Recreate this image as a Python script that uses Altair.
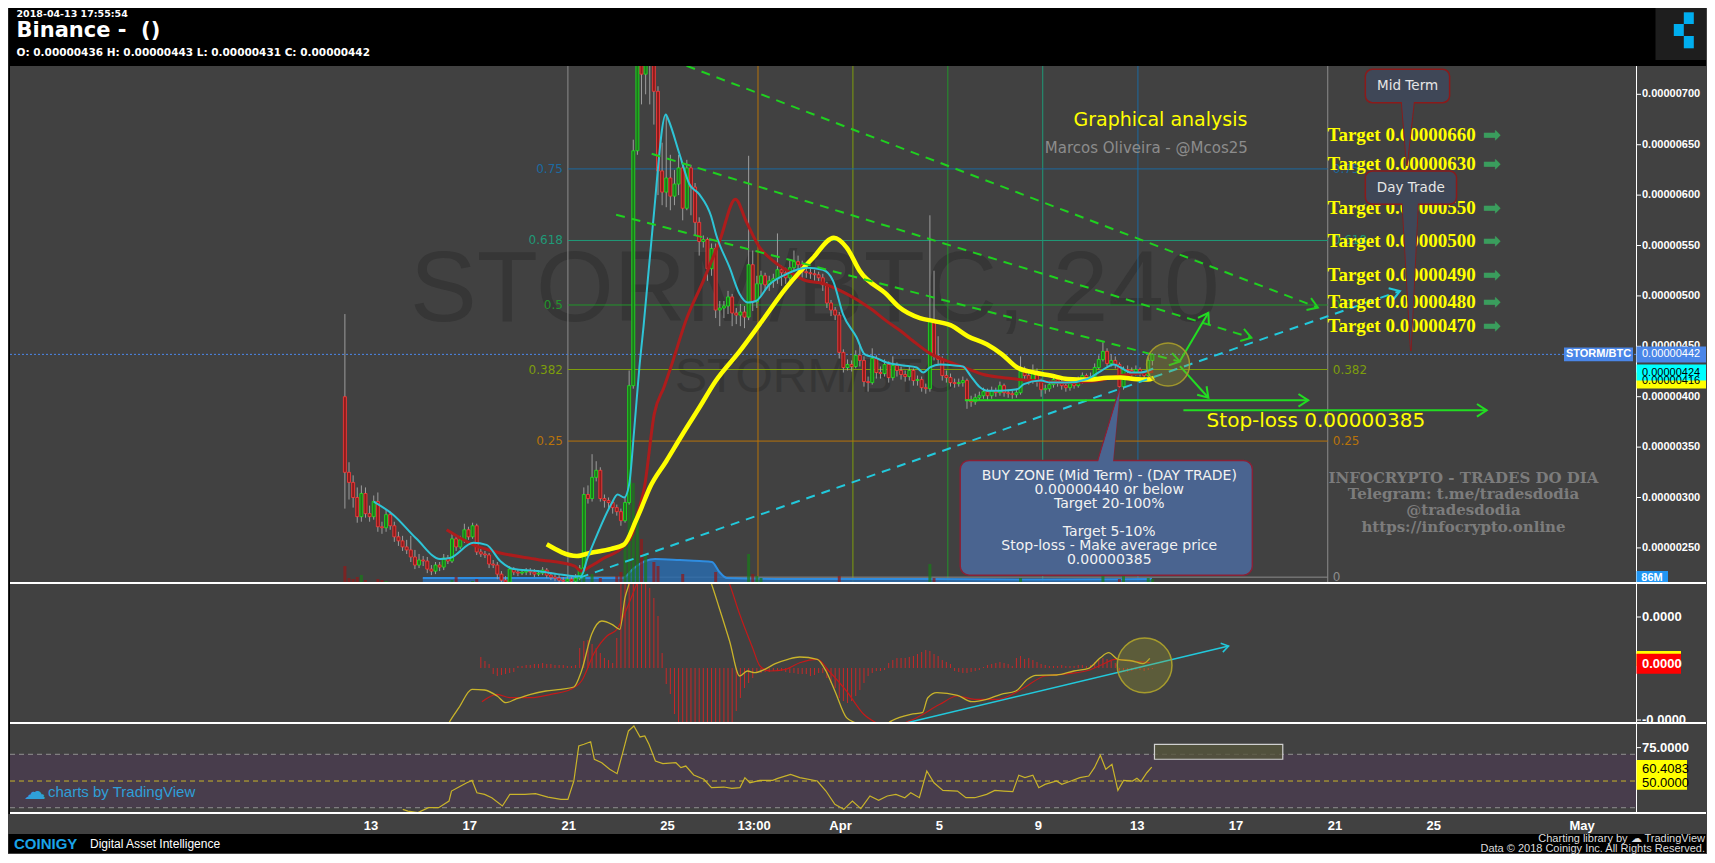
import math
import altair as alt
import pandas as pd

# ---------------- layout (pixels / scales) ----------------
W = 1626
H_MAIN, H_MACD, H_RSI = 518, 140, 90
X_DOM = [-1.6, 64.18]          # day counted from 1 March (Apr 1 = 32, May 1 = 62)
Y_MAIN = [214.2, 728.1]        # price in units of 1e-8 BTC
Y_MACD = [-56.0, 84.0]
Y_RSI = [25.3, 92.7]
PX_DAY = W / (X_DOM[1] - X_DOM[0])
PX_MAIN = H_MAIN / (Y_MAIN[1] - Y_MAIN[0])
PX_MACD = H_MACD / (Y_MACD[1] - Y_MACD[0])

# ---------------- data: 4h candles (price x 1e-8 BTC) ----------------
candle_day0 = 11.948
candle_step = 1.0 / 6.0
first_open = 400
closes = [325, 315, 300, 281, 304, 284, 281, 296, 271, 270,
          283, 272, 261, 257, 251, 248, 241, 233, 238, 237,
          229, 227, 233, 231, 240, 237, 259, 251, 258, 268,
          261, 272, 246, 244, 243, 234, 233, 224, 218, 216,
          229, 226, 225, 226, 227, 226, 224, 225, 228, 223,
          221, 220, 218, 217, 219, 217, 220, 230, 303, 299,
          320, 327, 299, 297, 295, 290, 286, 277, 295, 411,
          644, 770, 720, 790, 750, 703, 624, 603, 617, 599,
          611, 627, 587, 627, 608, 573, 554, 556, 527, 547,
          486, 488, 490, 499, 483, 481, 484, 479, 531, 494,
          512, 520, 511, 515, 517, 526, 523, 518, 528, 534,
          531, 524, 523, 522, 521, 518, 511, 493, 486, 481,
          444, 429, 432, 430, 441, 436, 415, 414, 438, 424,
          423, 432, 419, 431, 426, 422, 420, 426, 416, 417,
          409, 408, 475, 440, 437, 421, 419, 414, 413, 414,
          416, 397, 395, 399, 401, 405, 401, 406, 404, 411,
          404, 403, 402, 404, 425, 421, 416, 425, 416, 407,
          408, 412, 417, 414, 411, 409, 413, 411, 416, 421,
          418, 420, 429, 437, 445, 433, 436, 432, 410, 427,
          426, 424, 427, 424, 421, 436, 442]
highs = [482, 335, 322, 310, 312, 310, 292, 302, 305, 276,
         288, 286, 276, 266, 262, 258, 262, 248, 244, 242,
         241, 233, 236, 236, 244, 243, 264, 262, 262, 274,
         271, 275, 274, 249, 247, 245, 238, 236, 227, 222,
         232, 231, 229, 229, 230, 230, 229, 228, 231, 230,
         226, 224, 223, 221, 222, 221, 224, 233, 310, 312,
         343, 336, 330, 303, 300, 296, 293, 289, 300, 426,
         655, 860, 800, 850, 820, 760, 708, 652, 680, 640,
         625, 640, 632, 635, 630, 612, 578, 560, 558, 552,
         552, 495, 495, 505, 502, 488, 492, 490, 639, 545,
         520, 525, 523, 520, 522, 562, 530, 528, 535, 545,
         540, 535, 528, 527, 526, 524, 522, 514, 496, 489,
         484, 447, 437, 436, 446, 452, 440, 420, 448, 441,
         430, 437, 435, 440, 434, 430, 426, 430, 428, 421,
         420, 413, 580, 525, 460, 440, 426, 423, 418, 418,
         420, 418, 401, 403, 405, 409, 408, 410, 409, 415,
         413, 407, 406, 408, 440, 430, 424, 432, 428, 418,
         412, 416, 420, 420, 417, 414, 417, 416, 420, 424,
         423, 424, 433, 441, 454, 448, 442, 440, 434, 430,
         431, 429, 431, 429, 425, 439, 443]
lows = [289, 298, 290, 275, 276, 280, 276, 278, 266, 264,
        266, 268, 256, 252, 247, 244, 236, 229, 230, 232,
        225, 223, 224, 227, 228, 234, 235, 247, 249, 255,
        258, 259, 243, 241, 240, 230, 230, 219, 214, 213,
        214, 223, 222, 223, 223, 223, 221, 222, 223, 220,
        218, 217, 215, 215, 215, 215, 215, 218, 228, 294,
        296, 316, 296, 290, 289, 284, 282, 272, 275, 293,
        408, 640, 690, 700, 690, 670, 600, 590, 588, 585,
        590, 600, 575, 585, 580, 560, 540, 548, 515, 520,
        478, 470, 478, 482, 470, 472, 470, 468, 476, 485,
        488, 500, 505, 505, 508, 512, 510, 512, 515, 524,
        525, 518, 518, 517, 515, 512, 505, 488, 480, 476,
        438, 424, 426, 425, 428, 430, 410, 405, 412, 418,
        418, 420, 414, 416, 420, 417, 415, 416, 411, 411,
        405, 403, 405, 436, 432, 416, 414, 410, 409, 410,
        410, 388, 390, 392, 396, 398, 397, 398, 400, 401,
        400, 399, 398, 399, 402, 416, 412, 413, 410, 400,
        403, 405, 409, 410, 407, 405, 406, 408, 409, 413,
        414, 415, 418, 427, 435, 430, 430, 428, 405, 407,
        422, 420, 421, 420, 418, 419, 431]

# moving averages (candle index, value)
cyan_idx = [7, 11.7, 17.4, 23.1, 25.5, 31.2, 34.4, 37.7, 40.9, 46.7,
            51.6, 55.7, 57.3, 58.9, 61.3, 64.6, 66.2, 67.8, 69, 70.2,
            71.5, 72.5, 74.7, 77.9, 78.5, 81.2, 83.6, 86, 88.9, 90.1,
            93.4, 95.8, 97.8, 99.8, 103.1, 107.1, 112, 116, 118.5, 120.9,
            124.2, 126.2, 128.6, 131.5, 135.5, 138.8, 140.4, 142, 144.5, 148,
            150, 152, 154, 156, 159.2, 163.2, 164.8, 168.9, 171.3, 175.4,
            180.2, 183.5, 186.7, 188.3, 190.8, 193.2, 194.8, 196.2]
cyan_val = [296, 283, 259, 239, 240, 255, 253, 237, 229, 227,
            224, 222, 222, 240, 264, 293, 303, 300, 313, 366,
            430, 470, 568, 680, 675, 641, 611, 601, 579, 561,
            528, 502, 493.5, 495, 511.6, 521.5, 528, 526, 515, 482,
            459, 442, 439, 434, 431, 429, 424, 429, 432, 431,
            430, 420, 410, 406, 406, 407.4, 412.5, 416, 414, 414,
            417.6, 425.5, 432, 429, 424, 424, 425.5, 428]
red_idx = [24.7, 31.2, 37.7, 46.7, 55.8, 57.3, 59.7, 62.9, 67.8, 69.8,
           71, 72.7, 75.1, 77.5, 79.1, 83, 87, 91, 94.8, 97.4,
           100.7, 103.9, 108.8, 112, 115.3, 121.8, 127.4, 131.5, 135, 138,
           142, 147, 151, 155, 159.5, 167, 175, 183, 187, 191, 196.2]
red_val = [268, 253, 245, 238.6, 232, 227, 232, 240, 252, 263.7,
           283, 310, 383, 410, 429, 478, 515, 555, 596, 574,
           548, 535, 521.5, 515, 513, 502, 488, 475, 465, 455,
           443, 434, 428, 422, 419, 416, 414, 416, 420, 422.5, 425]
yellow_idx = [49, 56.3, 59.5, 64.6, 67.8, 70.6, 72, 74, 78, 82,
              86, 90, 95.8, 100.7, 107.1, 113.6, 118.7, 121.8, 125, 131.5,
              134.5, 139.6, 143, 147, 151.2, 155.8, 159.5, 163.2, 167.3, 171.3,
              175.4, 180.2, 185.1, 188.3, 191.6, 194.8, 196.4]
yellow_val = [253.6, 242, 245, 249, 253.6, 276.7, 290, 309.7, 336, 363,
              389, 415.6, 445, 472, 508, 537.6, 557.7, 548, 524.6, 501.5,
              489, 478, 475, 471, 460, 452, 442, 429, 424, 421,
              417.6, 417, 418.7, 419, 417.6, 417, 418.7]

# volume (height in px of the volume pane) for notable candles
vol_idx = [0, 1, 2, 3, 4, 5, 8, 9, 10, 26, 27, 31, 32, 40, 57, 58, 60, 62, 66, 67,
           68, 69, 70, 71, 72, 73, 75, 76, 82, 90, 98, 99, 100, 101, 120, 142, 143,
           164, 184, 188, 189, 195, 196]
vol_px = [18, 6, 5, 7, 9, 4, 5, 4, 3, 4, 7, 3, 5, 3, 8, 22, 10, 6, 8, 12,
          38, 128, 101, 70, 45, 30, 22, 18, 10, 12, 30, 10, 8, 6, 8, 20, 6,
          6, 8, 5, 10, 6, 5]
vol_ma_day = [15.1, 23.2, 23.6, 24.1, 24.5, 25.5, 26.3, 26.8, 27.1, 27.4, 30, 35, 40, 44.6]
vol_ma_px = [6, 6, 15, 23, 25, 24, 23, 22, 12, 6, 5, 5, 4.5, 5]

# fibonacci retracement
fib_names = ["0", "0.25", "0.382", "0.5", "0.618", "0.75"]
fib_prices = [221, 356, 427, 491, 555, 626]
fib_start, fib_end = 20.97, 51.71
fib_vdays = [20.97, 28.66, 32.5, 36.34, 40.18, 44.03, 51.71]

# drawings
green_dash = [[(25.77, 728.3), (51.31, 488.5)],
              [(24.36, 641.0), (48.62, 458.5)],
              [(22.92, 580.6), (45.73, 434.8)]]
cyan_dash = [[(21.45, 220.5), (54.63, 504.9)]]
green_arrows = [[(45.73, 435.4), (46.88, 483.3)],
                [(45.73, 430.4), (46.88, 399.0)],
                [(37.03, 396.4), (50.92, 396.4)],
                [(45.87, 386.5), (58.14, 386.5)]]
circle_main = (45.25, 432)

target_text = ["Target 0.00000660", "Target 0.00000630", "Target 0.00000550",
               "Target 0.00000500", "Target 0.00000490", "Target 0.00000480",
               "Target 0.00000470"]
target_p = [660, 630.6, 587.5, 554.5, 520.8, 494.2, 470.1]
target_day, target_arrow_day = 51.7, 58.35

buy_box = (36.84, 48.66, 336.8, 222.9)
buy_tail = [(336.8, 42.41, 43.02), (409.0, 43.30, 43.30)]
buy_lines = ["BUY ZONE (Mid Term) - (DAY TRADE)", "0.00000440 or below", "Target 20-100%",
             "Target 5-10%", "Stop-loss - Make average price", "0.00000385"]
buy_line_p = [321.3, 307.4, 293.8, 266.2, 252.0, 238.3]
buy_text_day = 42.87

mid_box = (53.23, 56.64, 724.8, 691.7)
mid_tail = [(691.7, 54.70, 55.20), (628.9, 54.91, 54.91)]
mid_label = (54.94, 708.2, "Mid Term")
day_box = (53.23, 56.92, 623.9, 590.9)
day_tail = [(590.9, 54.73, 55.36), (445.4, 55.07, 55.07)]
day_label = (55.07, 607.3, "Day Trade")

info_lines = ["INFOCRYPTO - TRADES DO DIA", "Telegram: t.me/tradesdodia",
              "@tradesdodia", "https://infocrypto.online"]
info_p = [319.6, 303.1, 287.2, 270.9]
info_day = 57.2

# MACD (values in pane px units, 0 = zero line)
macd_day = [15.79, 16.16, 16.56, 17.09, 17.60, 18.11, 18.46, 18.84, 19.46, 20.08,
            20.69, 21.21, 21.52, 21.93, 22.34, 22.75, 23.07, 23.28, 23.44, 24.08,
            25.50, 26.78, 27.09, 27.51, 27.92, 28.23, 28.53, 28.94, 29.36, 29.87,
            30.35, 31.06, 31.41, 31.77, 32.24, 32.70, 33.19, 33.59, 33.89, 34.36,
            34.84, 35.31, 35.53, 35.90, 36.73, 37.31, 37.91, 38.49, 39.09, 39.56,
            39.90, 40.74, 41.44, 42.04, 42.51, 42.85, 43.22, 43.81, 44.23, 44.51]
macd_val = [-73, -54.7, -39.7, -21.3, -22, -28, -34.7, -31.3, -26.3, -23,
            -21.3, -19, -3, 33.7, 47, 43.7, 38.7, 70.3, 84, 187,
            137, 84, 60.3, 27, -8, -3, -4.7, -1.3, 4.3, 8.7,
            11, 8.7, -3, -23, -49.7, -56.3, -68, -71, -56.3, -49.7,
            -46.3, -44.7, -29.7, -24.7, -27.3, -33.7, -31.3, -26.3, -23, -11.3,
            -7.3, -7, -3, -0.3, 10.3, 15.3, 8.7, 7, 4.3, 9.7]
sig_day = [17.49, 18.10, 18.62, 19.46, 20.28, 21.09, 21.52, 22.04, 22.55, 22.95,
           23.48, 23.75, 24.69, 26.31, 27.51, 27.92, 28.44, 28.74, 29.14, 29.78,
           30.35, 31.06, 31.53, 32.24, 32.94, 33.54, 33.99, 34.48, 35.08, 36.02,
           36.73, 37.43, 38.36, 39.32, 40.27, 41.20, 42.04, 42.61, 43.10, 43.79, 44.51]
sig_val = [-33.7, -26.3, -29.7, -29.7, -26.3, -21.3, -13, 15.3, 32, 38.7,
           67, 84, 147, 137, 84, 53.7, 20.3, 2, -3, -1.3,
           5.3, 8.7, -3, -23, -46.3, -56.3, -63, -56.3, -49.7, -36.3,
           -28, -31.3, -31.3, -21.3, -8, -5.7, -2.3, 3.7, 8.7, 7, 5.3]
hist_start = 33
hist_vals = [11, 7, 4,
             -6, -8, -7, -6, -5, -4,
             2, 2, 3, 3, 4, 4, 5, 4, 4, 3, 3, 3, 2, 2, 3,
             20, 27, 28, 24, 20, 15, 10, 8, 5,
             30, 90, 95, 100, 100, 95, 92, 88, 80, 70, 52, 15,
             -16, -26, -46, -70, -70, -70, -70, -70, -70, -70, -70, -70, -70, -70, -70, -70, -70, -43, -30,
             -20, -15, -10,
             -5, -5, -4, -4, -3, -3, -3, -4, -5, -5, -6,
             -6, -6, -8, -7, -5, -5,
             -10, -15, -20, -30, -33, -35, -33, -28, -22, -15, -8,
             -5, -3, -3, -2,
             5, 8, 10, 10, 10, 11, 12, 14, 16, 18, 17, 14, 12, 8, 6, 4,
             -3, -4, -5, -5, -4, -3, -2,
             1, 3, 4, 5, 6, 5, 4, 2,
             10, 12, 9, 10, 8, 6, 4, 3,
             2, 2, 2, 3, 2, 2, 2, 3, 3, 2, 3,
             6, 8, 10, 9, 7, 5,
             -3, -3, -4, -3, -2, -2, -3, -2, -1]
macd_trend = [(34.48, -56.0), (47.7, 22.0)]
macd_circle = (44.3, 2.7)

# RSI
rsi_day = [14.29, 14.50, 14.90, 15.33, 15.74, 16.16, 16.26, 16.56, 16.88, 17.09,
           17.29, 17.60, 17.89, 18.32, 18.62, 19.23, 19.66, 20.16, 20.69, 20.97,
           21.21, 21.41, 21.62, 21.89, 22.04, 22.34, 22.66, 22.96, 23.17, 23.42,
           23.64, 23.89, 24.08, 24.25, 24.51, 24.81, 25.34, 25.54, 25.74, 26.06,
           26.47, 26.78, 27.28, 27.60, 27.93, 28.13, 28.33, 28.74, 29.26, 29.46,
           29.98, 30.35, 31.06, 31.41, 31.77, 32.13, 32.48, 32.82, 33.19, 33.54,
           33.89, 34.24, 34.60, 34.84, 35.19, 35.49, 35.78, 36.14, 36.73, 37.07,
           37.43, 37.91, 38.24, 38.61, 38.97, 39.21, 39.46, 39.78, 40.02, 40.27,
           40.74, 40.95, 41.32, 41.68, 42.04, 42.27, 42.51, 42.73, 42.98, 43.22,
           43.45, 43.81, 43.99, 44.15, 44.39, 44.59]
rsi_val = [28.8, 27.5, 26.3, 30.0, 30.0, 35.0, 42.5, 45.5, 48.7, 50.5,
           41.2, 40.0, 37.5, 31.3, 40.0, 40.0, 40.5, 38.0, 36.3, 36.3,
           50.0, 76.2, 77.5, 79.4, 66.3, 63.7, 58.8, 55.5, 70.0, 87.5,
           91.2, 83.0, 83.7, 77.5, 65.0, 63.0, 63.7, 60.0, 61.2, 54.5,
           51.3, 45.0, 45.5, 44.5, 45.0, 52.5, 48.7, 50.5, 50.5, 52.0,
           55.0, 52.5, 50.0, 42.5, 32.5, 28.8, 35.0, 29.3, 38.8, 35.5,
           38.8, 40.0, 37.5, 41.2, 37.5, 57.5, 48.7, 43.0, 42.5, 37.5,
           37.5, 40.0, 43.0, 42.5, 42.0, 54.3, 52.5, 54.3, 45.0, 47.5,
           50.0, 47.5, 50.0, 52.5, 53.7, 60.0, 69.3, 58.8, 62.5, 43.0,
           50.5, 50.0, 52.0, 49.5, 56.2, 60.4]
rsi_box = (44.7, 49.89, 77.5, 66.3)

# axis ticks and their labels
x_tick_days = [13, 17, 21, 25, 28.5, 32, 36, 40, 44, 48, 52, 56, 62]
x_tick_labels = ["13", "17", "21", "25", "13:00", "Apr", "5", "9", "13", "17", "21", "25", "May"]
price_ticks = [250, 300, 350, 400, 450, 500, 550, 600, 650, 700]
price_tick_labels = ["0.00000%d" % v for v in price_ticks]
macd_ticks = [51, -52]
macd_tick_labels = ["0.0000", "-0.0000"]
rsi_ticks = [75]
rsi_tick_labels = ["75.0000"]

# ---------------- styles ----------------
F_SANS = "DejaVu Sans"
F_LIB = "Liberation Sans"
F_NAR = "Liberation Sans Narrow, Liberation Sans"
F_SERIF = "Liberation Serif"
F_DSERIF = "DejaVu Serif"
C_UP, C_DN, C_WICK = "#1ee81e", "#ff3b3b", "#9c9c9c"
C_CYAN, C_MARED, C_MAYEL = "#2ec4d6", "#ad1c1c", "#ffff00"
C_GDASH, C_CDASH, C_GARROW = "#1fd01f", "#22c9dc", "#22dd22"
fib_colors = ["#8c8c8c", "#b8730a", "#7d9d0c", "#22962b", "#1f9a78", "#1c6aa0"]
fib_vcolors = ["#8c8c8c", "#b8730a", "#7d9d0c", "#22962b", "#1f9a78", "#1c6aa0", "#8c8c8c"]
CHEVRON = "M-1,-0.65L0,0L-1,0.65"

# ---------------- helpers ----------------
one = pd.DataFrame({"k": [0]})
XS = alt.Scale(domain=X_DOM, nice=False, zero=False)
YM = alt.Scale(domain=Y_MAIN, nice=False, zero=False)
YD = alt.Scale(domain=Y_MACD, nice=False, zero=False)
YR = alt.Scale(domain=Y_RSI, nice=False, zero=False)


def X(f):
    return alt.X(f + ":Q", scale=XS, axis=None, title=None)


def Y(f, s):
    return alt.Y(f + ":Q", scale=s, axis=None, title=None)


def vrect(x, x2, y, y2, **kw):
    return alt.Chart(one).mark_rect(**kw).encode(
        x=alt.value(x), x2=alt.value(x2), y=alt.value(y), y2=alt.value(y2))


def vtext(txt, x, y, **kw):
    return alt.Chart(one).mark_text(text=txt, **kw).encode(x=alt.value(x), y=alt.value(y))


def ang(p0, p1, pxy):
    dx = (p1[0] - p0[0]) * PX_DAY
    dy = -(p1[1] - p0[1]) * pxy
    return math.degrees(math.atan2(dy, dx)) % 360


def seg_df(segs):
    return pd.DataFrame([{"seg": k, "day": d, "p": p}
                         for k, s in enumerate(segs) for (d, p) in s])


def head_df(segs, pxy):
    return pd.DataFrame([{"day": s[-1][0], "p": s[-1][1], "ang": ang(s[0], s[-1], pxy)}
                         for s in segs])


def frame_left(h):
    return alt.Chart(one).mark_rect(color="black").encode(
        x=alt.value(-1.5), x2=alt.value(0), y=alt.value(0), y2=alt.value(h))


def separator(h):
    return alt.Chart(one).mark_rule(color="white", strokeWidth=2).encode(
        x=alt.value(0), x2=alt.value(W + 70), y=alt.value(h - 1))


def right_axis(h, ticks, labels, scale, font, size):
    df = pd.DataFrame({"v": ticks, "lab": labels})
    return [
        alt.Chart(one).mark_rule(color="white", strokeWidth=1).encode(
            x=alt.value(W + 0.5), y=alt.value(0), y2=alt.value(h)),
        alt.Chart(df).mark_rule(color="white", strokeWidth=1).encode(
            x=alt.value(W), x2=alt.value(W + 5), y=Y("v", scale)),
        alt.Chart(df).mark_text(align="left", baseline="middle", font=font, fontSize=size,
                                fontWeight="bold", color="white").encode(
            x=alt.value(W + 6), y=Y("v", scale), text="lab:N"),
    ]


# ---------------- dataframes ----------------
n = len(closes)
opens = [first_open] + closes[:-1]
cdf = pd.DataFrame({"i": list(range(n)), "open": opens, "close": closes,
                    "high": highs, "low": lows})
cdf["day"] = candle_day0 + cdf["i"] * candle_step
cdf["top"] = cdf[["open", "close"]].max(axis=1)
cdf["bot"] = cdf[["open", "close"]].min(axis=1)
cdf["dir"] = ["up" if c >= o else "down" for o, c in zip(opens, closes)]
half = 1.5 / PX_DAY
cdf["x0"] = cdf["day"] - half
cdf["x1"] = cdf["day"] + half

dir_scale = alt.Scale(domain=["up", "down"], range=[C_UP, C_DN])


def ma_df(idx, val):
    return pd.DataFrame({"day": [candle_day0 + k * candle_step for k in idx], "p": val})


vdf = pd.DataFrame({"i": vol_idx, "v": vol_px})
vdf = vdf.merge(cdf[["i", "day", "dir", "x0", "x1"]], on="i")
vdf["base"] = Y_MAIN[0]
vdf["vt"] = Y_MAIN[0] + vdf["v"] / PX_MAIN

vma = pd.DataFrame({"day": vol_ma_day, "v": vol_ma_px})
vma["base"] = Y_MAIN[0]
vma["vt"] = Y_MAIN[0] + vma["v"] / PX_MAIN

fib_h = pd.DataFrame({"name": fib_names, "p": fib_prices, "col": fib_colors})
fib_h["x0"] = fib_start
fib_h["x1"] = fib_end
fib_v = pd.DataFrame({"day": fib_vdays, "col": fib_vcolors})

# ---------------- main pane ----------------
L = []
L.append(frame_left(H_MAIN))
# watermark
L.append(alt.Chart(pd.DataFrame({"day": [30.96], "p": [505]})).mark_text(
    text="STORM/BTC, 240", font=F_LIB, fontSize=100, color="#363636", baseline="middle"
).encode(x=X("day"), y=Y("p", YM)))
L.append(alt.Chart(pd.DataFrame({"day": [31.0], "p": [418.6]})).mark_text(
    text="STORM/BTC", font=F_LIB, fontSize=48, color="#363636", baseline="middle"
).encode(x=X("day"), y=Y("p", YM)))
# fib
L.append(alt.Chart(fib_v).mark_rule(strokeWidth=1).encode(
    x=X("day"), y=alt.value(0), y2=alt.value(H_MAIN), color=alt.Color("col:N", scale=None)))
L.append(alt.Chart(fib_h).mark_rule(strokeWidth=1).encode(
    x=X("x0"), x2=alt.X2("x1:Q"), y=Y("p", YM), color=alt.Color("col:N", scale=None)))
L.append(alt.Chart(fib_h[fib_h["name"] != "0"]).mark_text(
    align="right", baseline="middle", font=F_SANS, fontSize=12, dx=-5).encode(
    x=X("x0"), y=Y("p", YM), text="name:N", color=alt.Color("col:N", scale=None)))
L.append(alt.Chart(fib_h).mark_text(
    align="left", baseline="middle", font=F_SANS, fontSize=12, dx=5).encode(
    x=X("x1"), y=Y("p", YM), text="name:N", color=alt.Color("col:N", scale=None)))
# current price line
L.append(alt.Chart(pd.DataFrame({"p": [closes[-1]]})).mark_rule(
    color="#4a86e8", strokeDash=[2, 2], strokeWidth=1).encode(
    x=alt.value(0), x2=alt.value(W), y=Y("p", YM)))
# volume
L.append(alt.Chart(vma).mark_area(color="#2a6bab", opacity=0.85, interpolate="monotone").encode(
    x=X("day"), y=Y("vt", YM), y2=alt.Y2("base:Q")))
L.append(alt.Chart(vma).mark_line(color="#2f8de0", strokeWidth=2, interpolate="monotone").encode(
    x=X("day"), y=Y("vt", YM)))
L.append(alt.Chart(vdf).mark_rect(opacity=0.75).encode(
    x=X("x0"), x2=alt.X2("x1:Q"), y=Y("vt", YM), y2=alt.Y2("base:Q"),
    color=alt.Color("dir:N", scale=alt.Scale(domain=["up", "down"], range=["#1b7a1b", "#8e1b1b"]),
                    legend=None)))
# candles
L.append(alt.Chart(cdf).mark_rule(color=C_WICK, strokeWidth=1, clip=True).encode(
    x=X("day"), y=Y("low", YM), y2=alt.Y2("high:Q")))
L.append(alt.Chart(cdf).mark_rect(strokeWidth=0.8, clip=True).encode(
    x=X("x0"), x2=alt.X2("x1:Q"), y=Y("bot", YM), y2=alt.Y2("top:Q"),
    color=alt.Color("dir:N", scale=dir_scale, legend=None),
    stroke=alt.Stroke("dir:N", scale=dir_scale, legend=None)))
# moving averages
L.append(alt.Chart(ma_df(red_idx, red_val)).mark_line(
    color=C_MARED, strokeWidth=3, interpolate="monotone", clip=True).encode(x=X("day"), y=Y("p", YM)))
L.append(alt.Chart(ma_df(yellow_idx, yellow_val)).mark_line(
    color=C_MAYEL, strokeWidth=4.5, interpolate="monotone", clip=True).encode(x=X("day"), y=Y("p", YM)))
L.append(alt.Chart(ma_df(cyan_idx, cyan_val)).mark_line(
    color=C_CYAN, strokeWidth=2, interpolate="monotone", clip=True).encode(x=X("day"), y=Y("p", YM)))
# trend lines
L.append(alt.Chart(seg_df(green_dash)).mark_line(
    color=C_GDASH, strokeWidth=2, strokeDash=[9, 7], clip=True).encode(
    x=X("day"), y=Y("p", YM), detail="seg:N"))
L.append(alt.Chart(seg_df(cyan_dash)).mark_line(
    color=C_CDASH, strokeWidth=2, strokeDash=[9, 7], clip=True).encode(
    x=X("day"), y=Y("p", YM), detail="seg:N"))
L.append(alt.Chart(seg_df(green_arrows)).mark_line(
    color=C_GARROW, strokeWidth=2, clip=True).encode(x=X("day"), y=Y("p", YM), detail="seg:N"))
heads = [(green_dash, C_GDASH), (cyan_dash, C_CDASH), (green_arrows, C_GARROW)]
for segs, col in heads:
    L.append(alt.Chart(head_df(segs, PX_MAIN)).mark_point(
        shape=CHEVRON, filled=False, size=380, strokeWidth=2, color=col, opacity=1).encode(
        x=X("day"), y=Y("p", YM), angle=alt.Angle("ang:Q", scale=None)))
# circle
L.append(alt.Chart(pd.DataFrame({"day": [circle_main[0]], "p": [circle_main[1]]})).mark_point(
    shape="circle", filled=True, fill="#9a9a2a", fillOpacity=0.3, stroke="#a89d2a",
    strokeOpacity=0.9, strokeWidth=1.5, size=1850).encode(x=X("day"), y=Y("p", YM)))
# titles inside the chart
L.append(alt.Chart(pd.DataFrame({"day": [44.94], "p": [674.2]})).mark_text(
    text="Graphical analysis", font=F_SANS, fontSize=19, color="#ffff00", baseline="middle").encode(
    x=X("day"), y=Y("p", YM)))
L.append(alt.Chart(pd.DataFrame({"day": [44.37], "p": [646.4]})).mark_text(
    text="Marcos Oliveira - @Mcos25", font=F_SANS, fontSize=15, color="#8c8c8c", baseline="middle").encode(
    x=X("day"), y=Y("p", YM)))
L.append(alt.Chart(pd.DataFrame({"day": [51.23], "p": [375.9]})).mark_text(
    text="Stop-loss 0.00000385", font=F_SANS, fontSize=20, color="#ffff00", baseline="middle").encode(
    x=X("day"), y=Y("p", YM)))
L.append(alt.Chart(pd.DataFrame({"txt": info_lines, "p": info_p, "day": [info_day] * 4})).mark_text(
    font=F_DSERIF, fontSize=15, fontWeight="bold", color="#7c7c7c", baseline="middle").encode(
    x=X("day"), y=Y("p", YM), text="txt:N"))
# BUY ZONE callout
buy_tail_df = pd.DataFrame(buy_tail, columns=["p", "xa", "xb"])
L.append(alt.Chart(buy_tail_df).mark_area(
    orient="horizontal", fill="#4a6490", stroke="#8a2035", strokeWidth=1.5).encode(
    y=Y("p", YM), x=X("xa"), x2=alt.X2("xb:Q")))
L.append(alt.Chart(pd.DataFrame([buy_box], columns=["x0", "x1", "y0", "y1"])).mark_rect(
    fill="#4a6490", stroke="#8a2035", strokeWidth=1.5, cornerRadius=9).encode(
    x=X("x0"), x2=alt.X2("x1:Q"), y=Y("y0", YM), y2=alt.Y2("y1:Q")))
L.append(alt.Chart(buy_tail_df.assign(p=buy_tail_df["p"] - 2)).mark_area(
    orient="horizontal", fill="#4a6490").encode(y=Y("p", YM), x=X("xa"), x2=alt.X2("xb:Q")))
L.append(alt.Chart(pd.DataFrame({"txt": buy_lines, "p": buy_line_p,
                                 "day": [buy_text_day] * len(buy_lines)})).mark_text(
    font=F_SANS, fontSize=14, color="#f2f2f2", baseline="middle").encode(
    x=X("day"), y=Y("p", YM), text="txt:N"))
# targets
tdf = pd.DataFrame({"txt": target_text, "p": target_p})
tdf["day"] = target_day
tdf["aday"] = target_arrow_day
L.append(alt.Chart(tdf).mark_text(
    font=F_SERIF, fontSize=19, fontWeight="bold", color="#ffff00", align="left", baseline="middle").encode(
    x=X("day"), y=Y("p", YM), text="txt:N"))
L.append(alt.Chart(tdf).mark_text(
    text="\u27a1", font=F_SANS, fontSize=22, color="#3a9d5d", baseline="middle").encode(
    x=X("aday"), y=Y("p", YM)))
# Mid Term / Day Trade callouts
for box, tail, lab in [(mid_box, mid_tail, mid_label), (day_box, day_tail, day_label)]:
    tdf2 = pd.DataFrame(tail, columns=["p", "xa", "xb"])
    L.append(alt.Chart(tdf2).mark_area(
        orient="horizontal", fill="#3f4757", stroke="#8b1a1a", strokeWidth=1.5).encode(
        y=Y("p", YM), x=X("xa"), x2=alt.X2("xb:Q")))
    L.append(alt.Chart(pd.DataFrame([box], columns=["x0", "x1", "y0", "y1"])).mark_rect(
        fill="#3f4757", stroke="#8b1a1a", strokeWidth=1.5, cornerRadius=7).encode(
        x=X("x0"), x2=alt.X2("x1:Q"), y=Y("y0", YM), y2=alt.Y2("y1:Q")))
    L.append(alt.Chart(tdf2.assign(p=tdf2["p"] + 2)).mark_area(
        orient="horizontal", fill="#3f4757").encode(y=Y("p", YM), x=X("xa"), x2=alt.X2("xb:Q")))
    L.append(alt.Chart(pd.DataFrame({"day": [lab[0]], "p": [lab[1]]})).mark_text(
        text=lab[2], font=F_SANS, fontSize=13.5, color="#e6e6e6", baseline="middle").encode(
        x=X("day"), y=Y("p", YM)))
# right price axis
L.extend(right_axis(H_MAIN, price_ticks, price_tick_labels, YM, F_LIB, 11))
# right-hand price labels
half_lab = 8 / PX_MAIN
lab_df = pd.DataFrame({"p": [416, 424, closes[-1]],
                       "fill": ["#ffff00", "#00ffff", "#4a86e8"],
                       "tc": ["#000000", "#000000", "#ffffff"]})
lab_df["txt"] = ["0.00000%d" % v for v in lab_df["p"]]
lab_df["y0"] = lab_df["p"] + half_lab
lab_df["y1"] = lab_df["p"] - half_lab
L.append(alt.Chart(lab_df).mark_rect().encode(
    x=alt.value(W + 0.5), x2=alt.value(W + 70), y=Y("y0", YM), y2=alt.Y2("y1:Q"),
    color=alt.Color("fill:N", scale=None)))
L.append(alt.Chart(lab_df).mark_text(align="left", baseline="middle", font=F_LIB, fontSize=11).encode(
    x=alt.value(W + 6), y=Y("p", YM), text="txt:N", color=alt.Color("tc:N", scale=None)))
sym_df = pd.DataFrame({"p": [closes[-1]]})
sym_df["y0"] = sym_df["p"] + half_lab * 0.85
sym_df["y1"] = sym_df["p"] - half_lab * 0.85
L.append(alt.Chart(sym_df).mark_rect(color="#4a86e8").encode(
    x=alt.value(W - 72), x2=alt.value(W - 3), y=Y("y0", YM), y2=alt.Y2("y1:Q")))
L.append(alt.Chart(sym_df).mark_text(text="STORM/BTC", font=F_LIB, fontSize=11, fontWeight="bold",
                                      color="white", baseline="middle").encode(
    x=alt.value(W - 37.5), y=Y("p", YM)))
L.append(vrect(W + 0.5, W + 32, H_MAIN - 13, H_MAIN, color="#2196f3"))
L.append(vtext("86M", W + 16, H_MAIN - 6, font=F_LIB, fontSize=11, fontWeight="bold",
               color="white", baseline="middle"))
# header
L.append(vrect(-1.5, W + 70, -58, 0, color="black"))
L.append(vtext("2018-04-13 17:55:54", 6.5, -52, font=F_SANS, fontSize=9.5, fontWeight="bold",
               color="white", align="left", baseline="middle"))
L.append(vtext("Binance -\u00a0\u00a0()", 6.5, -35, font=F_SANS, fontSize=21, fontWeight="bold",
               color="white", align="left", baseline="middle"))
L.append(vtext("O: 0.00000436 H: 0.00000443 L: 0.00000431 C: 0.00000442", 6.5, -13,
               font=F_SANS, fontSize=10.5, fontWeight="bold", color="white", align="left",
               baseline="middle"))
L.append(vrect(W + 19.5, W + 70, -58, -6, color="#1e1e1e"))
L.append(vrect(W + 47.8, W + 57.8, -53.7, -42, color="#00aeef"))
L.append(vrect(W + 37.8, W + 47.8, -42, -30, color="#00aeef"))
L.append(vrect(W + 47.8, W + 57.8, -30, -17.7, color="#00aeef"))
L.append(separator(H_MAIN))
main = alt.layer(*L).properties(width=W, height=H_MAIN)

# ---------------- MACD pane ----------------
hdf = pd.DataFrame({"v": hist_vals})
hdf["day"] = [candle_day0 + (hist_start + k) * candle_step for k in range(len(hist_vals))]
hdf["zero"] = 0.0
M = [frame_left(H_MACD)]
M.append(alt.Chart(hdf).mark_rule(color="#c62828", strokeWidth=1, clip=True).encode(
    x=X("day"), y=Y("zero", YD), y2=alt.Y2("v:Q")))
M.append(alt.Chart(pd.DataFrame({"day": sig_day, "v": sig_val})).mark_line(
    color="#c41a1a", strokeWidth=1.2, clip=True, interpolate="monotone").encode(x=X("day"), y=Y("v", YD)))
M.append(alt.Chart(pd.DataFrame({"day": macd_day, "v": macd_val})).mark_line(
    color="#c9b42a", strokeWidth=1.3, clip=True, interpolate="monotone").encode(x=X("day"), y=Y("v", YD)))
mt = [macd_trend]
M.append(alt.Chart(seg_df(mt)).mark_line(color=C_CDASH, strokeWidth=1.5, clip=True).encode(
    x=X("day"), y=Y("p", YD), detail="seg:N"))
M.append(alt.Chart(head_df(mt, PX_MACD)).mark_point(
    shape=CHEVRON, filled=False, size=200, strokeWidth=1.5, color=C_CDASH, opacity=1).encode(
    x=X("day"), y=Y("p", YD), angle=alt.Angle("ang:Q", scale=None)))
M.append(alt.Chart(pd.DataFrame({"day": [macd_circle[0]], "p": [macd_circle[1]]})).mark_point(
    shape="circle", filled=True, fill="#9a9a2a", fillOpacity=0.3, stroke="#b0a42a",
    strokeOpacity=0.9, strokeWidth=1.5, size=3000).encode(x=X("day"), y=Y("p", YD)))
M.extend(right_axis(H_MACD, macd_ticks, macd_tick_labels, YD, F_NAR, 13))
mb = pd.DataFrame({"y0": [17.0, 14.3], "y1": [2.0, -5.7], "fill": ["#ffff00", "#ff0000"]})
M.append(alt.Chart(mb).mark_rect().encode(
    x=alt.value(W + 0.5), x2=alt.value(W + 45), y=Y("y0", YD), y2=alt.Y2("y1:Q"),
    color=alt.Color("fill:N", scale=None)))
M.append(alt.Chart(pd.DataFrame({"p": [4.3]})).mark_text(
    text="0.0000", font=F_NAR, fontSize=13, fontWeight="bold", color="white",
    align="left", baseline="middle").encode(x=alt.value(W + 6), y=Y("p", YD)))
M.append(separator(H_MACD))
macd = alt.layer(*M).properties(width=W, height=H_MACD)

# ---------------- RSI pane ----------------
R = [frame_left(H_RSI)]
R.append(alt.Chart(pd.DataFrame({"a": [70], "b": [30]})).mark_rect(color="#483d4c").encode(
    x=alt.value(0), x2=alt.value(W), y=Y("a", YR), y2=alt.Y2("b:Q")))
R.append(alt.Chart(pd.DataFrame({"p": [70, 30]})).mark_rule(
    color="#8f8f8f", strokeDash=[5, 4], strokeWidth=1).encode(
    x=alt.value(0), x2=alt.value(W), y=Y("p", YR)))
R.append(alt.Chart(pd.DataFrame({"p": [50]})).mark_rule(
    color="#c9b42a", strokeDash=[5, 4], strokeWidth=1).encode(
    x=alt.value(0), x2=alt.value(W), y=Y("p", YR)))
R.append(alt.Chart(pd.DataFrame({"day": rsi_day, "v": rsi_val})).mark_line(
    color="#c9b42a", strokeWidth=1.2, clip=True).encode(x=X("day"), y=Y("v", YR)))
R.append(alt.Chart(pd.DataFrame([rsi_box], columns=["x0", "x1", "y0", "y1"])).mark_rect(
    fill="#55553c", fillOpacity=0.8, stroke="#d0d0d0", strokeWidth=1.2).encode(
    x=X("x0"), x2=alt.X2("x1:Q"), y=Y("y0", YR), y2=alt.Y2("y1:Q")))
R.extend(right_axis(H_RSI, rsi_ticks, rsi_tick_labels, YR, F_NAR, 13))
R.append(alt.Chart(pd.DataFrame({"a": [65.7], "b": [43.5]})).mark_rect(color="#ffff00").encode(
    x=alt.value(W + 0.5), x2=alt.value(W + 51), y=Y("a", YR), y2=alt.Y2("b:Q")))
R.append(alt.Chart(pd.DataFrame({"p": [59.3, 48.6], "txt": ["60.4083", "50.0000"]})).mark_text(
    font=F_NAR, fontSize=13, color="black", align="left", baseline="middle").encode(
    x=alt.value(W + 6), y=Y("p", YR), text="txt:N"))
R.append(vtext("\u2601", 25, 68, font=F_SANS, fontSize=22, color="#2f9fd8", baseline="middle"))
R.append(vtext("charts by TradingView", 38, 68, font=F_NAR, fontSize=15, color="#2f9fd8",
               align="left", baseline="middle"))
# time axis labels
R.append(alt.Chart(pd.DataFrame({"d": x_tick_days, "lab": x_tick_labels})).mark_text(
    font=F_NAR, fontSize=13, fontWeight="bold", color="white", baseline="middle").encode(
    x=X("d"), y=alt.value(H_RSI + 12), text="lab:N"))
# footer
R.append(vrect(-1.5, W + 70, H_RSI + 20, H_RSI + 39, color="black"))
R.append(vtext("COINIGY", 4, H_RSI + 30, font=F_LIB, fontSize=15, fontWeight="bold",
               color="#1aa3e8", align="left", baseline="middle"))
R.append(vtext("Digital Asset Intelligence", 80, H_RSI + 30, font=F_NAR, fontSize=12,
               color="white", align="left", baseline="middle"))
R.append(vtext("Charting library by  \u2601 TradingView", W + 69, H_RSI + 25, font=F_NAR,
               fontSize=11, color="#dddddd", align="right", baseline="middle"))
R.append(vtext("Data \u00a9 2018  Coinigy Inc. All Rights Reserved.", W + 69, H_RSI + 35,
               font=F_NAR, fontSize=11, color="#dddddd", align="right", baseline="middle"))
R.append(separator(H_RSI))
rsi = alt.layer(*R).properties(width=W, height=H_RSI)

chart = alt.vconcat(main, macd, rsi, spacing=0, bounds="flush").properties(
    padding={"left": 0, "top": 0, "right": 0, "bottom": 0}
).configure(background="#414141").configure_view(stroke=None)

chart.save("out.html", embed_options={"renderer": "svg", "actions": False})
